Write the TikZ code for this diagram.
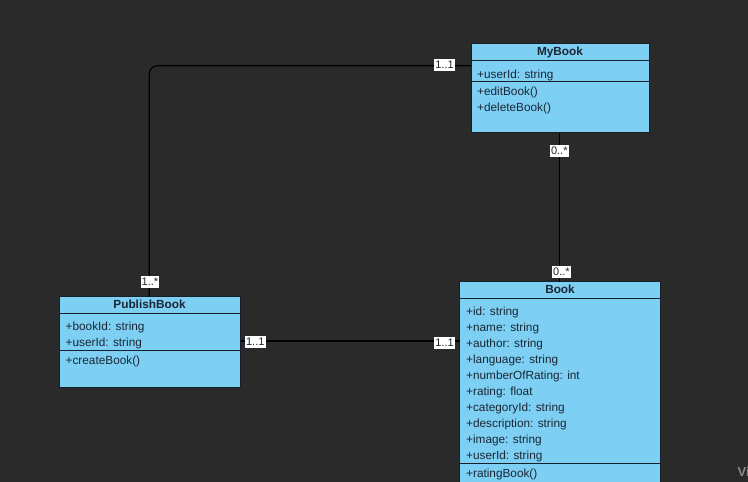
\documentclass[tikz,border=0pt]{standalone}
\usepackage{fontspec}
\setmainfont{Liberation Sans}
\begin{document}
\begin{tikzpicture}[x=1pt,y=-1pt,
  umlbox/.style={draw=boxline,fill=boxfill,line width=1pt,inner sep=0pt,outer sep=0pt,anchor=north west},
  divline/.style={draw=boxline,line width=1pt},
  member/.style={anchor=west,inner sep=0pt,text=txt,font=\fontsize{11.8}{13}\selectfont},
  title/.style={anchor=center,inner sep=0pt,text=txt,font=\bfseries\fontsize{11.8}{13}\selectfont},
  mult/.style={fill=white,text=txt,inner sep=1.2pt,minimum height=12pt,font=\fontsize{11}{12}\selectfont},
  conn/.style={draw=black,line width=1.2pt}]
\definecolor{bg}{HTML}{2A2A2A}
\definecolor{boxfill}{HTML}{7ECFF4}
\definecolor{boxline}{HTML}{15202B}
\definecolor{txt}{HTML}{1A2733}
\definecolor{wm}{HTML}{8A8A8A}
\useasboundingbox (0,0) rectangle (748,482);
\fill[bg] (0,0) rectangle (748,482);
\clip (0,0) rectangle (748,482);

% MyBook
\node[umlbox,minimum width=178pt,minimum height=89.5pt] (mybook) at (471,43.3) {};
\draw[divline] (471,60) -- (649,60);
\draw[divline] (471,81.5) -- (649,81.5);
\node[title] (mybookT) at (560,52) {MyBook};
\node[member] (mb1) at (477,75) {+userId: string};
\node[member] (mb2) at (477,92.5) {+editBook()};
\node[member] (mb3) at (477,108.5) {+deleteBook()};

% PublishBook
\node[umlbox,minimum width=181.5pt,minimum height=90.3pt] (publish) at (59,296.7) {};
\draw[divline] (59,313.3) -- (240.5,313.3);
\draw[divline] (59,350.3) -- (240.5,350.3);
\node[title] (publishT) at (149.5,304.5) {PublishBook};
\node[member] (pb1) at (65.5,327.5) {+bookId: string};
\node[member] (pb2) at (65.5,343.5) {+userId: string};
\node[member] (pb3) at (65.5,361.5) {+createBook()};

% Book
\node[umlbox,minimum width=200.7pt,minimum height=220pt] (book) at (459.5,281.7) {};
\draw[divline] (459.5,298.3) -- (660.2,298.3);
\draw[divline] (459.5,463.3) -- (660.2,463.3);
\node[title] (bookT) at (560,289.5) {Book};
\node[member] (b1) at (466,312.5) {+id: string};
\node[member] (b2) at (466,328.5) {+name: string};
\node[member] (b3) at (466,344.5) {+author: string};
\node[member] (b4) at (466,360.5) {+language: string};
\node[member] (b5) at (466,376.5) {+numberOfRating: int};
\node[member] (b6) at (466,392.5) {+rating: float};
\node[member] (b7) at (466,408.5) {+categoryId: string};
\node[member] (b8) at (466,424.5) {+description: string};
\node[member] (b9) at (466,440.5) {+image: string};
\node[member] (b10) at (466,456.5) {+userId: string};
\node[member] (b11) at (466,474) {+ratingBook()};

% connectors
\coordinate (c1) at (149.3,65.8);
\draw[conn,rounded corners=8pt] (mybook.west |- c1) -- (c1) -- (c1 |- publish.north);
\draw[conn] (559.3,132.8) coordinate (c2) -- (c2 |- book.north);
\draw[conn] (publish.east |- 0,341) -- (book.west |- 0,341);

% multiplicities
\node[mult] (m1) at (444.5,64.5) {1..1};
\node[mult] (m2) at (559.3,150.5) {0..*};
\node[mult] (m3) at (150,281.5) {1..*};
\node[mult] (m4) at (561.5,271.5) {0..*};
\node[mult] (m5) at (255.3,341.8) {1..1};
\node[mult] (m6) at (444.5,342.8) {1..1};

% watermark (cut off at the picture's edge, as in the reference)
\node[anchor=west,inner sep=0pt,text=wm,font=\bfseries\fontsize{13}{14}\selectfont] (wmk) at (737.5,471.5) {Vi};
\end{tikzpicture}
\end{document}
